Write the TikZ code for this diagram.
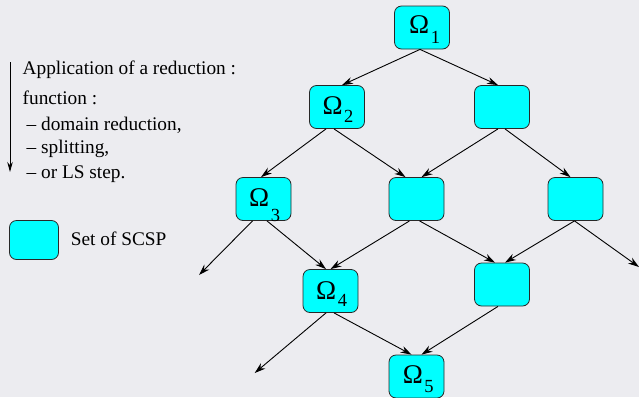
\documentclass[tikz,border=0pt]{standalone}
\usepackage{fontspec}
\setmainfont{Liberation Serif}
\usetikzlibrary{calc,arrows.meta}

\definecolor{bgcol}{RGB}{236,236,240}
\definecolor{setcol}{RGB}{0,255,255}
\definecolor{edgecol}{RGB}{40,40,40}

\newcommand{\omfont}{\fontsize{27}{27}\selectfont}
\newcommand{\subfnt}{\fontsize{18.5}{18.5}\selectfont}
\newcommand{\txtfont}{\fontsize{19.3}{21}\selectfont}
% Omega with a lowered index; #1 = index, #2 = drop of the index
\newcommand{\omlabel}[2]{{\omfont\char"03A9}\hspace{1.5pt}\raisebox{-#2}{\subfnt #1}}

\begin{document}
\begin{tikzpicture}[x=1pt,y=-1pt,
  setbox/.style={draw=edgecol,line width=0.8pt,fill=setcol,rounded corners=7pt,
    minimum width=55pt,minimum height=43pt,inner sep=0pt},
  legendbox/.style={setbox,minimum width=49pt,minimum height=39pt},
  link/.style={draw=black,line width=0.9pt,-{Stealth[length=11pt,width=7pt]}},
  lab/.style={anchor=base west,inner sep=0pt,text=black},
  txt/.style={anchor=base west,inner sep=0pt,font=\txtfont,text=black}]

% page
\fill[bgcol] (0,0) rectangle (639,397);
\useasboundingbox (0,0) rectangle (639,397);

% lattice of sets
\node[setbox] (o1) at (422,27.5) {};
\node[setbox] (o2) at (337,107) {};
\node[setbox] (r2) at (502,107) {};
\node[setbox] (o3) at (263.5,199) {};
\node[setbox] (m3) at (416.5,199) {};
\node[setbox] (r3) at (575.5,199) {};
\node[setbox] (o4) at (330.5,291) {};
\node[setbox] (r4) at (502,284.5) {};
\node[setbox] (o5) at (416.5,376.5) {};

% labels of the named sets
\node[lab] (l1) at ($(o1.center)+(-13,5.5)$) {\omlabel{1}{10pt}};
\node[lab] (l2) at ($(o2.center)+(-14.7,7.3)$) {\omlabel{2}{8pt}};
\node[lab] (l3) at ($(o3.center)+(-14.5,7)$) {\omlabel{3}{15pt}};
\node[lab] (l4) at ($(o4.center)+(-14.5,8)$) {\omlabel{4}{7pt}};
\node[lab] (l5) at ($(o5.center)+(-13.8,6.8)$) {\omlabel{5}{9pt}};

% loose ends of the search
\coordinate (f3) at (199,275);
\coordinate (fr) at (639,267);
\coordinate (f4) at (254.7,373);

% reductions
\draw[link] ($(o1.south)+(-2,0)$) -- ($(o2.north)+(5,0)$);
\draw[link] ($(o1.south)+(-2,0)$) -- ($(r2.north)+(-4,0)$);
\draw[link] ($(o2.south)+(-11,0)$) -- ($(o3.north)+(-2.5,0)$);
\draw[link] ($(o2.south)+(-3,0)$) -- ($(m3.north)+(-11,0)$);
\draw[link] ($(r2.south)+(-4,0)$) -- ($(m3.north)+(5,0)$);
\draw[link] ($(r2.south)+(3,0)$) -- ($(r3.north)+(-5,0)$);
\draw[link] ($(o3.south)+(-11,0)$) -- (f3);
\draw[link] ($(o3.south)+(3.5,0)$) -- ($(o4.north)+(-4.5,0)$);
\draw[link] ($(m3.south)+(-7,0)$) -- ($(o4.north)+(0,0)$);
\draw[link] ($(m3.south)+(3,0)$) -- ($(r4.north)+(-7,0)$);
\draw[link] ($(r3.south)+(-1,0)$) -- ($(r4.north)+(3,0)$);
\draw[link] ($(r3.south)+(-1,0)$) -- (fr);
\draw[link] ($(o4.south)+(-4.5,0)$) -- (f4);
\draw[link] ($(o4.south)+(3.5,0)$) -- ($(o5.north)+(-5,0)$);
\draw[link] ($(r4.south)+(-4,0)$) -- ($(o5.north)+(5,0)$);

% key
\coordinate (kt) at (10,62);
\coordinate (kb) at (10,172);
\draw[draw=black,line width=0.9pt,-{Stealth[length=10pt,width=5.5pt]}] (kt) -- (kb);
\node[txt] (t1) at (22.5,74) {Application of a reduction :};
\node[txt] (t2) at (22.5,104) {function :};
\node[txt] (t3) at (26.5,130) {\textendash\ domain reduction,};
\node[txt] (t4) at (26.5,153) {\textendash\ splitting,};
\node[txt] (t5) at (26.5,178) {\textendash\ or LS step.};

\node[legendbox] (key) at (34,240) {};
\node[txt] (keytxt) at (70.7,245) {Set of SCSP};
\end{tikzpicture}
\end{document}
